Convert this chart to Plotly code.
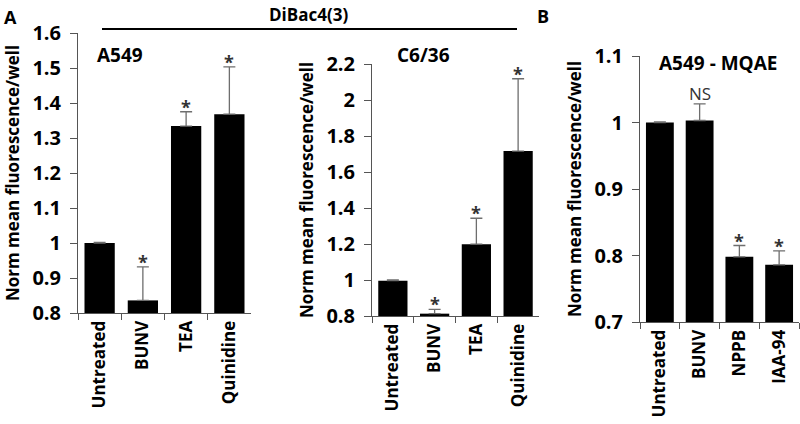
import plotly.graph_objects as go

# ---------------- data ----------------
cats_a = ["Untreated", "BUNV", "TEA", "Quinidine"]
a549_vals = [1.0, 0.836, 1.334, 1.368]
a549_err = [0.002, 0.096, 0.041, 0.135]
a549_sig = ["", "*", "*", "*"]

c636_vals = [0.996, 0.813, 1.199, 1.716]
c636_err = [0.004, 0.024, 0.144, 0.402]
c636_sig = ["", "*", "*", "*"]

cats_b = ["Untreated", "BUNV", "NPPB", "IAA-94"]
mqae_vals = [1.0, 1.003, 0.798, 0.786]
mqae_err = [0.001, 0.025, 0.017, 0.021]
mqae_sig = ["", "NS", "*", "*"]

W, H = 800, 424
FONT = "Open Sans"
AX = "#555555"


def px(x):
    return x / W


def py(y):
    return 1 - y / H


fig = go.Figure()

panels = [
    (cats_a, a549_vals, a549_err, a549_sig, (78, 251), (313, 33), (0.8, 1.6), 0.1, ""),
    (cats_a, c636_vals, c636_err, c636_sig, (372, 539), (316, 64), (0.8, 2.2), 0.2, "2"),
    (cats_b, mqae_vals, mqae_err, mqae_sig, (640, 799), (322, 56), (0.7, 1.1), 0.1, "3"),
]

annotations = []
for cats, vals, errs, sigs, xr, yr, rng, dt, s in panels:
    lo = rng[0]
    fig.add_trace(go.Bar(
        x=cats, y=[v - lo for v in vals], base=lo,
        xaxis="x" + s, yaxis="y" + s,
        marker=dict(color="black", line=dict(width=0)),
        error_y=dict(type="data", array=errs, arrayminus=[0] * len(errs),
                     symmetric=False, color="#6e6e6e", thickness=1.3, width=6),
        showlegend=False,
        hovertemplate="%{x}: %{customdata}<extra></extra>", customdata=vals,
    ))
    fig.layout["xaxis" + s] = dict(
        domain=[px(xr[0]), px(xr[1])], anchor="y" + s, automargin=False,
        type="category", tickson="boundaries", ticks="outside", ticklen=6,
        tickcolor=AX, tickwidth=1, showline=True, linecolor=AX, linewidth=1,
        tickangle=-90, showgrid=False, zeroline=False,
        tickfont=dict(family=FONT, size=17, color="black", weight="bold"),
        range=[-0.5, 3.5],
    )
    fig.layout["yaxis" + s] = dict(
        domain=[py(yr[0]), py(yr[1])], anchor="x" + s, automargin=False,
        range=list(rng), dtick=dt, tick0=rng[0], ticks="outside", ticklen=7,
        tickcolor=AX, tickwidth=1, showline=True, linecolor=AX, linewidth=1,
        showgrid=False, zeroline=False, ticklabelstandoff=5,
        tickfont=dict(family=FONT, size=20, color="black", weight="bold"),
        title=dict(text="Norm mean fluorescence/well", standoff=8,
                   font=dict(family=FONT, size=17, color="black", weight="bold")),
    )
    for c, v, e, sg in zip(cats, vals, errs, sigs):
        if not sg:
            continue
        star = sg == "*"
        annotations.append(dict(
            x=c, y=v + e, xref="x" + s, yref="y" + s, text=sg, showarrow=False,
            yanchor="bottom", yshift=-9 if star else -3,
            font=dict(family=FONT, size=18 if star else 17, color="#333333",
                      weight="bold" if star else "normal"),
        ))

texts = [
    ("A", 10, 17, 18),
    ("B", 543, 16, 18),
    ("DiBac4(3)", 308, 14, 17),
    ("A549", 120, 55, 19),
    ("C6/36", 423, 55, 19),
    ("A549 - MQAE", 718, 63, 19),
]
for t, x, y, sz in texts:
    annotations.append(dict(
        x=px(x), y=py(y), xref="paper", yref="paper", text=t, showarrow=False,
        xanchor="center", yanchor="middle",
        font=dict(family=FONT, size=sz, color="black", weight="bold"),
    ))

fig.update_layout(
    width=W, height=H, margin=dict(l=0, r=0, t=0, b=0, autoexpand=False),
    paper_bgcolor="white", plot_bgcolor="white",
    bargap=0.3, annotations=annotations,
    shapes=[dict(type="line", xref="paper", yref="paper",
                 x0=px(102), x1=px(517), y0=py(29), y1=py(29),
                 line=dict(color="black", width=2))],
)

fig.write_html("out.html", config={"displayModeBar": False},
               post_script="document.body.style.margin='0';document.body.style.overflow='hidden';")
